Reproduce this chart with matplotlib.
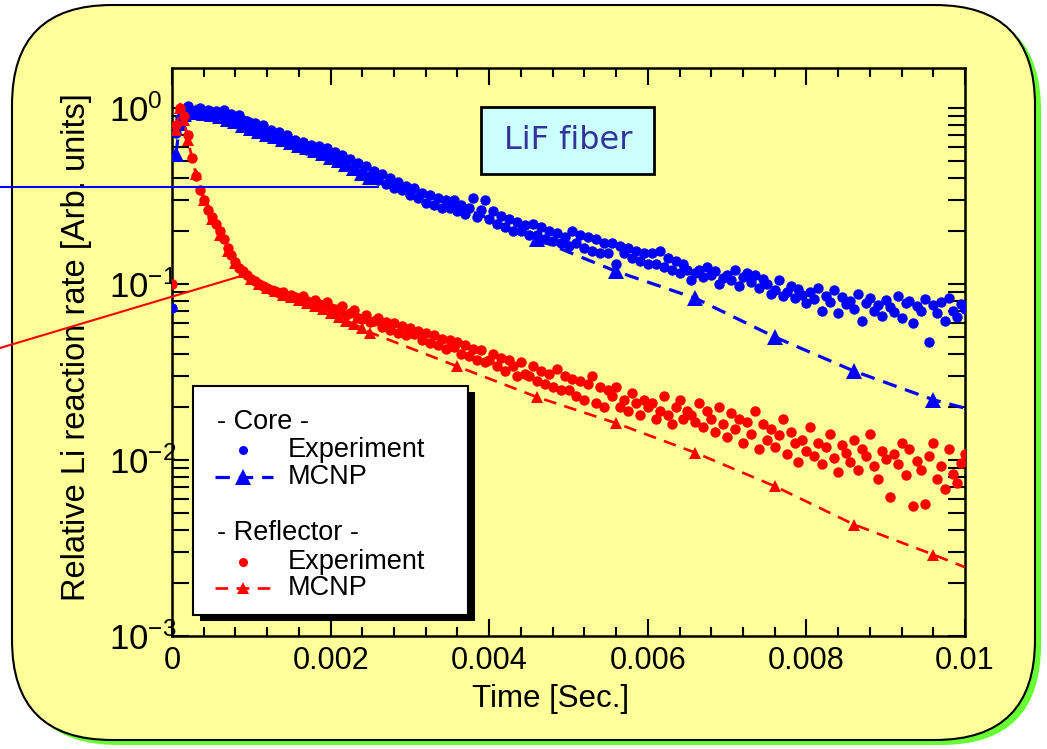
import numpy as np
import matplotlib
matplotlib.use("Agg")
import matplotlib.pyplot as plt
from matplotlib.patches import FancyBboxPatch, Rectangle
from matplotlib.lines import Line2D
from matplotlib.ticker import FixedLocator, LogLocator, FuncFormatter, MultipleLocator

plt.rcParams['font.family'] = ['Liberation Sans', 'DejaVu Sans']
plt.rcParams['mathtext.fontset'] = 'custom'
plt.rcParams['mathtext.rm'] = 'Liberation Sans'

# experiment: one sample every 0.05 ms
t_exp = np.arange(201) * 5e-5

core_exp = [0.073,
    0.72, 0.88, 0.97, 1.03, 0.98, 0.95, 1.0, 0.94, 0.97, 0.93,
    0.96, 0.92, 0.98, 0.9, 0.93, 0.88, 0.91, 0.86, 0.84, 0.82,
    0.82, 0.76, 0.8, 0.72, 0.75, 0.7, 0.73, 0.66, 0.7, 0.64,
    0.66, 0.6, 0.64, 0.58, 0.62, 0.56, 0.61, 0.55, 0.59, 0.53,
    0.56, 0.5, 0.54, 0.47, 0.51, 0.45, 0.49, 0.43, 0.47, 0.41,
    0.44, 0.39, 0.42, 0.37, 0.4, 0.35, 0.38, 0.34, 0.36, 0.32,
    0.35, 0.31, 0.33, 0.29, 0.32, 0.28, 0.31, 0.27, 0.3, 0.27,
    0.3, 0.26, 0.28, 0.25, 0.27, 0.31, 0.24, 0.265, 0.3, 0.235,
    0.26, 0.22, 0.245, 0.21, 0.235, 0.2, 0.225, 0.2, 0.215, 0.19,
    0.22, 0.19, 0.21, 0.18, 0.2, 0.175, 0.195, 0.17, 0.185, 0.165,
    0.2, 0.17, 0.19, 0.16, 0.185, 0.155, 0.18, 0.15, 0.17, 0.15,
    0.17, 0.13, 0.165, 0.15, 0.16, 0.14, 0.155, 0.135, 0.15, 0.13,
    0.15, 0.13, 0.155, 0.125, 0.14, 0.12, 0.135, 0.115, 0.13, 0.12,
    0.105, 0.115, 0.12, 0.11, 0.125, 0.112, 0.118, 0.1, 0.108, 0.113,
    0.105, 0.12, 0.098, 0.11, 0.115, 0.103, 0.112, 0.095, 0.107, 0.1,
    0.088, 0.093, 0.105, 0.085, 0.09, 0.098, 0.083, 0.094, 0.087, 0.078,
    0.09, 0.082, 0.095, 0.07, 0.086, 0.079, 0.092, 0.068, 0.084, 0.077,
    0.08, 0.072, 0.088, 0.062, 0.078, 0.083, 0.07, 0.076, 0.066, 0.081,
    0.074, 0.069, 0.085, 0.064, 0.078, 0.08, 0.06, 0.075, 0.07, 0.082,
    0.047, 0.076, 0.068, 0.079, 0.062, 0.083, 0.07, 0.065, 0.077, 0.072]

refl_exp = [0.1,
    0.8, 1.0, 0.9, 0.7, 0.52, 0.41, 0.34, 0.3, 0.265, 0.24,
    0.22, 0.2, 0.18, 0.16, 0.147, 0.133, 0.124, 0.118, 0.112, 0.107,
    0.104, 0.1, 0.098, 0.095, 0.093, 0.091, 0.089, 0.09, 0.086, 0.087,
    0.084, 0.082, 0.085, 0.08, 0.078, 0.081, 0.077, 0.074, 0.079, 0.073,
    0.072, 0.07, 0.075, 0.067, 0.068, 0.071, 0.064, 0.063, 0.067, 0.061,
    0.062, 0.064, 0.057, 0.061, 0.055, 0.06, 0.053, 0.058, 0.051, 0.056,
    0.052, 0.054, 0.048, 0.053, 0.046, 0.051, 0.045, 0.049, 0.043, 0.048,
    0.044, 0.047, 0.04, 0.045, 0.039, 0.043, 0.037, 0.042, 0.036, 0.037,
    0.04, 0.034, 0.038, 0.032, 0.037, 0.034, 0.03, 0.036, 0.031, 0.03,
    0.034, 0.028, 0.032, 0.027, 0.031, 0.026, 0.033, 0.025, 0.03, 0.025,
    0.029, 0.023, 0.028, 0.022, 0.027, 0.03, 0.021, 0.026, 0.02, 0.025,
    0.023, 0.026, 0.02, 0.022, 0.019, 0.024, 0.021, 0.018, 0.022, 0.02,
    0.021, 0.017, 0.019, 0.023, 0.018, 0.016, 0.02, 0.022, 0.017, 0.019,
    0.018, 0.0165, 0.021, 0.0155, 0.019, 0.017, 0.0145, 0.02, 0.016, 0.0135,
    0.0185, 0.015, 0.017, 0.0125, 0.0165, 0.014, 0.019, 0.0115, 0.016, 0.013,
    0.015, 0.0118, 0.0138, 0.017, 0.0108, 0.0145, 0.0125, 0.0098, 0.013, 0.0112,
    0.0155, 0.0105, 0.0125, 0.0095, 0.0118, 0.014, 0.0102, 0.0085, 0.0122, 0.011,
    0.0098, 0.013, 0.0088, 0.0115, 0.0105, 0.014, 0.0092, 0.0078, 0.0112, 0.0101,
    0.0062, 0.0108, 0.0095, 0.0125, 0.0082, 0.0115, 0.0055, 0.0099, 0.0088, 0.0056,
    0.0105, 0.0125, 0.0078, 0.0092, 0.0068, 0.0115, 0.0083, 0.0074, 0.0096, 0.0108]

mcnp_t = [0.00005, 0.0001, 0.00015, 0.0002, 0.0003, 0.0004, 0.0005, 0.0006,
          0.0007, 0.0008, 0.0009, 0.001, 0.0011, 0.0012, 0.0013, 0.0014,
          0.0015, 0.0016, 0.0017, 0.0018, 0.0019, 0.002, 0.0021, 0.0022,
          0.0023, 0.0024, 0.0025, 0.0036, 0.0046, 0.0056, 0.0066, 0.0076,
          0.0086, 0.0096, 0.0100]
core_mcnp = [0.55, 0.82, 0.92, 0.95, 0.95, 0.94, 0.92, 0.9, 0.87, 0.84, 0.8,
             0.77, 0.74, 0.715, 0.69, 0.665, 0.64, 0.62, 0.6, 0.575,
             0.555, 0.53, 0.505, 0.48, 0.455, 0.43, 0.405, 0.28, 0.18, 0.118,
             0.083, 0.05, 0.032, 0.022, 0.0197]
refl_mcnp = [0.75, 1.0, 0.85, 0.66, 0.42, 0.3, 0.235, 0.19, 0.155, 0.132, 0.117,
             0.107, 0.1, 0.095, 0.091, 0.087, 0.084, 0.081, 0.078, 0.075,
             0.072, 0.068, 0.065, 0.062, 0.059, 0.056, 0.053, 0.034, 0.0228,
             0.0162, 0.011, 0.0071, 0.0043, 0.0029, 0.00246]

x_ticks = [0, 0.002, 0.004, 0.006, 0.008, 0.01]
x_labels = ['0', '0.002', '0.004', '0.006', '0.008', '0.01']

BLUE = '#0000FF'
RED = '#FF0000'

fig = plt.figure(figsize=(10.47, 7.49), dpi=100)

# rounded background panel with green shadow (behind the axes)
shadow = FancyBboxPatch((0.18, 0.04), 10.23, 7.35,
                        boxstyle='round,pad=0,rounding_size=1.0',
                        transform=fig.dpi_scale_trans, facecolor='#66FF33',
                        edgecolor='none', zorder=-3)
panel = FancyBboxPatch((0.12, 0.09), 10.23, 7.35,
                       boxstyle='round,pad=0,rounding_size=1.0',
                       transform=fig.dpi_scale_trans, facecolor='#FFFF99',
                       edgecolor='black', linewidth=1.5, zorder=-2)
fig.patches.extend([shadow, panel])

ax = fig.add_axes([172 / 1047, 1 - 636 / 749, 793 / 1047, 568 / 749])
ax.set_facecolor('none')
ax.set_yscale('log')
ax.set_xlim(0, 0.01)
ax.set_ylim(1e-3, 10 ** (40 / 176))

ax.plot(t_exp, core_exp, 'o', color=BLUE, ms=7.5, mew=0, zorder=3)
ax.plot(mcnp_t, core_mcnp, color=BLUE, lw=2.3, ls=(0, (4.5, 2.8)),
        marker='^', ms=11, mew=0, markevery=list(range(len(mcnp_t) - 1)), zorder=4)
ax.plot(t_exp, refl_exp, 'o', color=RED, ms=7.5, mew=0, zorder=5)
ax.plot(mcnp_t, refl_mcnp, color=RED, lw=1.9, ls=(0, (4.8, 3.2)),
        marker='^', ms=8.5, mew=0, markevery=list(range(len(mcnp_t) - 1)), zorder=6)

# pointer lines running out to the left edge
ax.annotate('', xy=(0.0026, 10 ** (-79 / 176)), xycoords='data',
            xytext=(0, 749 - 187), textcoords='figure pixels',
            arrowprops=dict(arrowstyle='-', color=BLUE, lw=1.5, shrinkA=0, shrinkB=0),
            zorder=7, annotation_clip=False)
ax.annotate('', xy=(0.00083, 10 ** (-169 / 176)), xycoords='data',
            xytext=(0, 749 - 348), textcoords='figure pixels',
            arrowprops=dict(arrowstyle='-', color=RED, lw=1.5, shrinkA=0, shrinkB=0),
            zorder=7, annotation_clip=False)

# axes styling
for s in ax.spines.values():
    s.set_linewidth(1.8)
ax.xaxis.set_major_locator(FixedLocator(x_ticks))
ax.set_xticklabels(x_labels)
ax.xaxis.set_minor_locator(MultipleLocator(0.0004))
ax.yaxis.set_major_locator(LogLocator(base=10, numticks=10))
ax.yaxis.set_minor_locator(LogLocator(base=10, subs=np.arange(2, 10), numticks=10))
ax.yaxis.set_major_formatter(FuncFormatter(lambda v, p: r'$\mathregular{10^{%d}}$' % round(np.log10(v))))
ax.tick_params(which='both', direction='in', top=True, right=True, width=1.5, colors='black')
ax.tick_params(axis='x', which='major', length=12, labelsize=22, pad=7)
ax.tick_params(axis='x', which='minor', length=6.5)
ax.tick_params(axis='y', which='major', length=12, labelsize=25, pad=45)
ax.tick_params(axis='y', which='minor', length=12, labelright=False)
for lab in ax.get_yticklabels():
    lab.set_horizontalalignment('left')

ax.set_xlabel('Time [Sec.]', fontsize=22.5)
ax.xaxis.set_label_coords(0.477, -0.085)
ax.set_ylabel('Relative Li reaction rate [Arb. units]', fontsize=23.5)
ax.yaxis.set_label_coords(-0.101, 0.509)

# "LiF fiber" box
ax.add_patch(Rectangle((0.3897, 0.8134), 0.2182, 0.118, transform=ax.transAxes,
                       facecolor='#CCFFFF', edgecolor='black', lw=2, zorder=8))
ax.text(0.4994, 0.8715, 'LiF fiber', transform=ax.transAxes, fontsize=23,
        family=['DejaVu Sans'], color='#333399', ha='center', va='center', zorder=9)

# legend drawn by hand
ax.add_patch(Rectangle((0.0265 + 0.0088, 0.037 - 0.0106), 0.3468, 0.4032,
                       transform=ax.transAxes, facecolor='black', edgecolor='none',
                       zorder=10, clip_on=False))
ax.add_patch(Rectangle((0.0265, 0.037), 0.3468, 0.4032, transform=ax.transAxes,
                       facecolor='white', edgecolor='black', lw=1.5, zorder=11,
                       clip_on=False))
legend_rows = [
    ('- Core -', None, 0.3768),
    ('Experiment', ('exp', BLUE), 0.3275),
    ('MCNP', ('mcnp', BLUE), 0.2799),
    ('- Reflector -', None, 0.1813),
    ('Experiment', ('exp', RED), 0.1303),
    ('MCNP', ('mcnp', RED), 0.0845),
]
for label, handle, yy in legend_rows:
    if handle is None:
        ax.text(0.0567, yy, label, transform=ax.transAxes, fontsize=19.5,
                ha='left', va='center', zorder=12)
        continue
    kind, col = handle
    if kind == 'exp':
        ax.add_line(Line2D([0.0895], [yy], transform=ax.transAxes, marker='o',
                           ms=6.5, mew=0, color=col, ls='none', zorder=12))
    else:
        big = col == BLUE
        ax.add_line(Line2D([0.0542, 0.1274], [yy, yy], transform=ax.transAxes,
                           color=col, lw=2.3 if big else 1.9,
                           ls=(0, (4.5, 2.8)) if big else (0, (4.8, 3.2)),
                           zorder=12))
        ax.add_line(Line2D([0.0895], [yy], transform=ax.transAxes, marker='^',
                           ms=11 if big else 8.5, mew=0, color=col, ls='none',
                           zorder=13))
    ax.text(0.1463, yy, label, transform=ax.transAxes, fontsize=19.5,
            ha='left', va='center', zorder=12)

fig.savefig('out.png', dpi=100)
